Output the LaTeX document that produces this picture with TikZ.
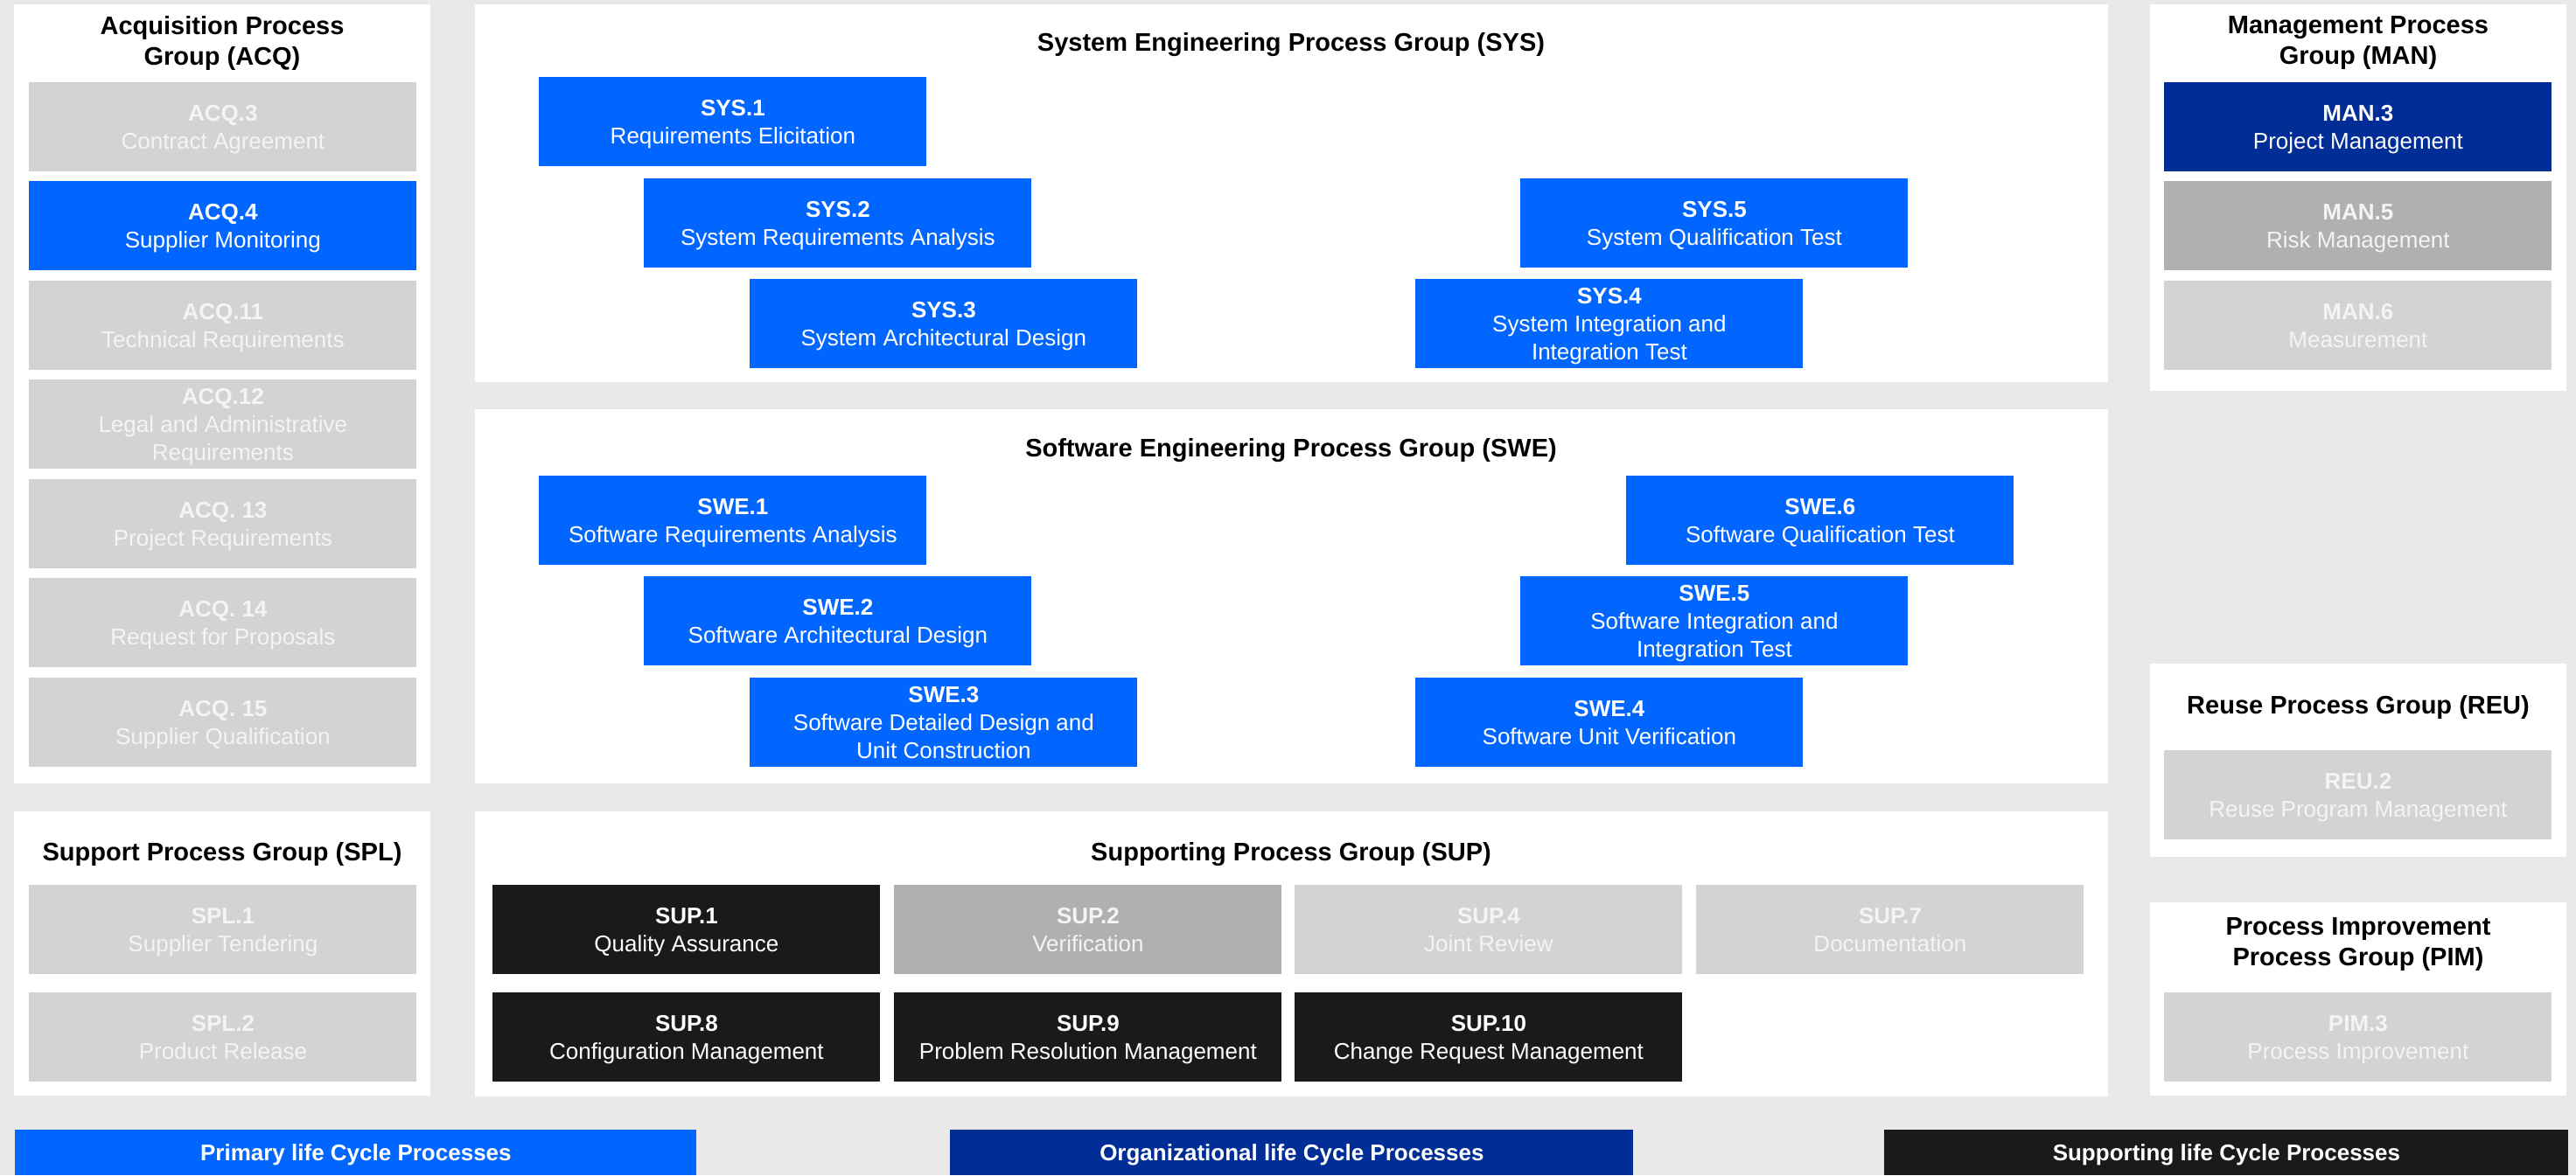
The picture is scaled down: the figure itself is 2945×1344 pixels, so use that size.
\documentclass[tikz,border=0pt]{standalone}
\usepackage{fontspec}
\setmainfont{Liberation Sans}

\definecolor{pageBg}{HTML}{E9E9E9}
\definecolor{priBlue}{HTML}{0066FF}
\definecolor{orgBlue}{HTML}{002D96}
\definecolor{supBlack}{HTML}{1A1A1A}
\definecolor{boxLight}{HTML}{D3D3D3}
\definecolor{boxMid}{HTML}{B0B0B0}
\definecolor{fadedText}{HTML}{F4F4F4}

\tikzset{
  panel/.style={fill=white, draw=none, anchor=north west, inner sep=0pt},
  proc/.style={anchor=north west, inner sep=0pt, minimum width=221.5pt,
    minimum height=51pt, align=center, text depth=0pt,
    font=\fontsize{13}{16}\selectfont, text=white},
  pri/.style={proc, fill=priBlue},
  org/.style={proc, fill=orgBlue},
  supp/.style={proc, fill=supBlack},
  inactive/.style={proc, fill=boxLight, text=fadedText},
  partial/.style={proc, fill=boxMid, text=fadedText},
  grouptitle/.style={font=\fontsize{14.5}{17.5}\selectfont\bfseries, align=center,
    text depth=0pt, inner sep=0pt},
  legendbar/.style={anchor=north west, inner sep=0pt, minimum height=26pt, text depth=0pt,
    font=\fontsize{13}{16}\selectfont\bfseries, text=white}
}

\begin{document}
\begin{tikzpicture}[x=0.5pt,y=-0.5pt]
  % page background
  \useasboundingbox[fill=pageBg] (0,0) rectangle (2945,1344);

  % group panels
  \node[panel, minimum width=238pt, minimum height=445.5pt] (acqG) at (16,5) {};
  \node[panel, minimum width=933.5pt, minimum height=216pt] (sysG) at (543,5) {};
  \node[panel, minimum width=933.5pt, minimum height=214pt] (sweG) at (543,468) {};
  \node[panel, minimum width=933.5pt, minimum height=163pt] (supG) at (543,928) {};
  \node[panel, minimum width=238pt, minimum height=221pt] (manG) at (2458,5) {};
  \node[panel, minimum width=238pt, minimum height=110.5pt] (reuG) at (2458,759) {};
  \node[panel, minimum width=238pt, minimum height=110.5pt] (pimG) at (2458,1032) {};
  \node[panel, minimum width=238pt, minimum height=162.5pt] (splG) at (16,928) {};

  % group titles
  \node[grouptitle] (acqT) at (254,46) {Acquisition Process\\Group (ACQ)};
  \node[grouptitle] (sysT) at (1476,48) {System Engineering Process Group (SYS)};
  \node[grouptitle] (sweT) at (1476,512) {Software Engineering Process Group (SWE)};
  \node[grouptitle] (supT) at (1476,974) {Supporting Process Group (SUP)};
  \node[grouptitle] (splT) at (254,974) {Support Process Group (SPL)};
  \node[grouptitle] (manT) at (2696,46) {Management Process\\Group (MAN)};
  \node[grouptitle] (reuT) at (2696,806) {Reuse Process Group (REU)};
  \node[grouptitle] (pimT) at (2696,1077) {Process Improvement\\Process Group (PIM)};

  % acquisition processes
  \node[inactive] (acq3)  at (33,94)  {\textbf{ACQ.3}\\Contract Agreement};
  \node[pri]      (acq4)  at (33,207) {\textbf{ACQ.4}\\Supplier Monitoring};
  \node[inactive] (acq11) at (33,321) {\textbf{ACQ.11}\\Technical Requirements};
  \node[inactive] (acq12) at (33,434) {\textbf{ACQ.12}\\Legal and Administrative\\Requirements};
  \node[inactive] (acq13) at (33,548) {\textbf{ACQ. 13}\\Project Requirements};
  \node[inactive] (acq14) at (33,661) {\textbf{ACQ. 14}\\Request for Proposals};
  \node[inactive] (acq15) at (33,775) {\textbf{ACQ. 15}\\Supplier Qualification};

  % supply processes
  \node[inactive] (spl1) at (33,1012) {\textbf{SPL.1}\\Supplier Tendering};
  \node[inactive] (spl2) at (33,1135) {\textbf{SPL.2}\\Product Release};

  % system engineering processes
  \node[pri] (sys1) at (616,88)   {\textbf{SYS.1}\\Requirements Elicitation};
  \node[pri] (sys2) at (736,204)  {\textbf{SYS.2}\\System Requirements Analysis};
  \node[pri] (sys3) at (857,319)  {\textbf{SYS.3}\\System Architectural Design};
  \node[pri] (sys4) at (1618,319) {\textbf{SYS.4}\\System Integration and\\Integration Test};
  \node[pri] (sys5) at (1738,204) {\textbf{SYS.5}\\System Qualification Test};

  % software engineering processes
  \node[pri] (swe1) at (616,544)  {\textbf{SWE.1}\\Software Requirements Analysis};
  \node[pri] (swe2) at (736,659)  {\textbf{SWE.2}\\Software Architectural Design};
  \node[pri] (swe3) at (857,775)  {\textbf{SWE.3}\\Software Detailed Design and\\Unit Construction};
  \node[pri] (swe4) at (1618,775) {\textbf{SWE.4}\\Software Unit Verification};
  \node[pri] (swe5) at (1738,659) {\textbf{SWE.5}\\Software Integration and\\Integration Test};
  \node[pri] (swe6) at (1859,544) {\textbf{SWE.6}\\Software Qualification Test};

  % supporting processes
  \node[supp]     (sup1)  at (563,1012)  {\textbf{SUP.1}\\Quality Assurance};
  \node[partial]  (sup2)  at (1022,1012) {\textbf{SUP.2}\\Verification};
  \node[inactive] (sup4)  at (1480,1012) {\textbf{SUP.4}\\Joint Review};
  \node[inactive] (sup7)  at (1939,1012) {\textbf{SUP.7}\\Documentation};
  \node[supp]     (sup8)  at (563,1135)  {\textbf{SUP.8}\\Configuration Management};
  \node[supp]     (sup9)  at (1022,1135) {\textbf{SUP.9}\\Problem Resolution Management};
  \node[supp]     (sup10) at (1480,1135) {\textbf{SUP.10}\\Change Request Management};

  % management processes
  \node[org]      (man3) at (2474,94)  {\textbf{MAN.3}\\Project Management};
  \node[partial]  (man5) at (2474,207) {\textbf{MAN.5}\\Risk Management};
  \node[inactive] (man6) at (2474,321) {\textbf{MAN.6}\\Measurement};

  % reuse and improvement processes
  \node[inactive] (reu2) at (2474,858)  {\textbf{REU.2}\\Reuse Program Management};
  \node[inactive] (pim3) at (2474,1135) {\textbf{PIM.3}\\Process Improvement};

  % legend
  \node[legendbar, fill=priBlue, minimum width=389.5pt]  (lgPri) at (17,1292)   {Primary life Cycle Processes};
  \node[legendbar, fill=orgBlue, minimum width=390.5pt]  (lgOrg) at (1086,1292) {Organizational life Cycle Processes};
  \node[legendbar, fill=supBlack, minimum width=391pt]   (lgSup) at (2154,1292) {Supporting life Cycle Processes};
\end{tikzpicture}
\end{document}
